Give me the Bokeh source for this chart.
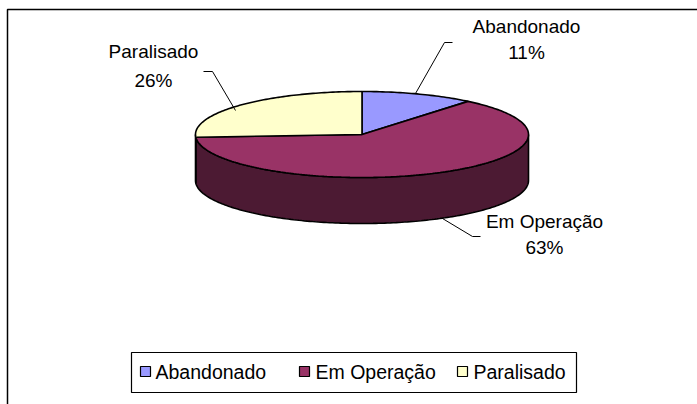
import math
from bokeh.plotting import figure
from bokeh.models import Range1d
from bokeh.core.properties import value
from bokeh.embed import file_html
from bokeh.resources import INLINE

# ---- data ----
categories = ["Abandonado", "Em Operação", "Paralisado"]
percents = [11, 63, 26]
top_colors = ["#9999FF", "#993366", "#FFFFCC"]
side_colors = ["#4D4D80", "#4C1A33", "#808066"]
pct_labels = ["11%", "63%", "26%"]

FONT = "Liberation Sans"

p = figure(width=697, height=404, x_range=Range1d(0, 697), y_range=Range1d(404, 0),
           output_backend="svg", toolbar_location=None, min_border=0)
p.axis.visible = False
p.grid.visible = False
p.outline_line_color = None
p.background_fill_color = "white"
p.border_fill_color = "white"

# outer chart frame (clipped by window on right/bottom)
p.line([7, 7, 710], [420, 9, 9], line_color="black", line_width=1.5)

# pie geometry (pixel space)
cx, cy, a, b, depth = 361.5, 134.0, 166.5, 43.0, 46.0

def pt(theta_deg, dy=0.0):
    t = math.radians(theta_deg)
    return cx + a * math.sin(t), cy - b * math.cos(t) + dy

total = float(sum(percents))
starts, ends = [], []
acc = 0.0
for v in percents:
    starts.append(acc * 360 / total)
    acc += v
    ends.append(acc * 360 / total)

# sides (front half: 90..270 degrees)
for s, e, col in zip(starts, ends, side_colors):
    lo, hi = max(s, 90.0), min(e, 270.0)
    if hi <= lo:
        continue
    n = max(4, int((hi - lo) / 1.0))
    angs = [lo + (hi - lo) * i / n for i in range(n + 1)]
    xs = [pt(t)[0] for t in angs] + [pt(t, depth)[0] for t in reversed(angs)]
    ys = [pt(t)[1] for t in angs] + [pt(t, depth)[1] for t in reversed(angs)]
    p.patch(xs, ys, fill_color=col, line_color="black", line_width=1.6)

# tops
for s, e, col in zip(starts, ends, top_colors):
    n = max(4, int((e - s) / 1.0))
    angs = [s + (e - s) * i / n for i in range(n + 1)]
    xs = [cx] + [pt(t)[0] for t in angs]
    ys = [cy] + [pt(t)[1] for t in angs]
    p.patch(xs, ys, fill_color=col, line_color="black", line_width=1.6)

# data labels and leader lines
label_x = [526, 544, 153]
label_y1 = [26, 221, 51]
label_y2 = [52, 247, 80]
leader_xs = [[452, 444, 415], [480, 472, 442], [203, 212, 235]]
leader_ys = [[42, 42, 93], [236, 236, 218], [71, 71, 110]]
for lx, ly in zip(leader_xs, leader_ys):
    p.line(lx, ly, line_color="black", line_width=1)
p.text(x=label_x, y=label_y1, text=categories, text_font=value(FONT), text_font_size="19px",
       text_align="center", text_baseline="middle", text_color="black")
p.text(x=label_x, y=label_y2, text=pct_labels, text_font=value(FONT), text_font_size="19px",
       text_align="center", text_baseline="middle", text_color="black")

# legend (manual)
p.quad(left=[131], right=[576], top=[352], bottom=[392], fill_color="white",
       line_color="black", line_width=1.2)
mk_x = [140, 299, 457]
txt_x = [155, 315, 473]
p.quad(left=mk_x, right=[m + 10 for m in mk_x], top=[366] * 3, bottom=[376] * 3,
       fill_color=top_colors, line_color="black", line_width=1.2)
p.text(x=txt_x, y=[371] * 3, text=categories, text_font=value(FONT), text_font_size="19.5px",
       text_align="left", text_baseline="middle", text_color="black")

open("out.html", "w").write(file_html(p, INLINE))
